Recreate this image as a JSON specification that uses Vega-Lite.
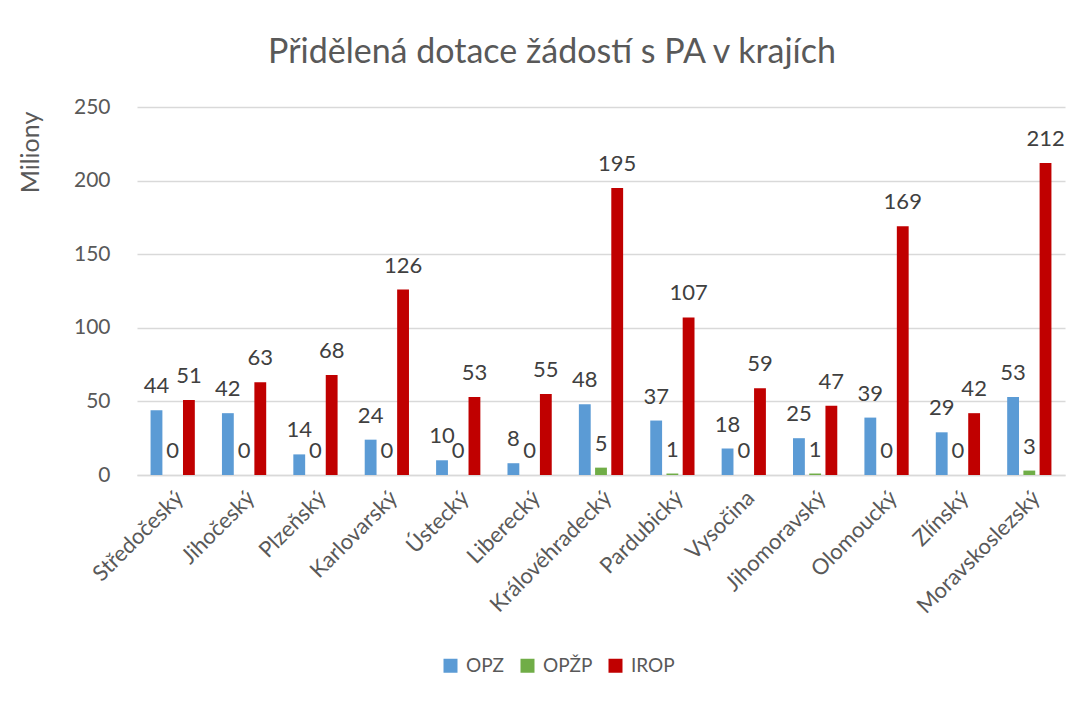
{
  "$schema": "https://vega.github.io/schema/vega-lite/v6.json",
  "autosize": {"type": "none"},
  "width": 928,
  "height": 368,
  "padding": {"left": 137, "top": 107, "right": 11, "bottom": 227},
  "background": "white",
  "config": {
    "font": "Lato",
    "view": {"stroke": null}
  },
  "title": {
    "text": "Přidělená dotace žádostí s PA v krajích",
    "fontSize": 34,
    "fontWeight": "normal",
    "color": "#595959",
    "anchor": "middle",
    "dx": -49,
    "offset": -1,
    "baseline": "alphabetic"
  },
  "data": {
    "values": [
      {"kraj": "Středočeský", "program": "OPZ", "value": 44},
      {"kraj": "Středočeský", "program": "OPŽP", "value": 0},
      {"kraj": "Středočeský", "program": "IROP", "value": 51},
      {"kraj": "Jihočeský", "program": "OPZ", "value": 42},
      {"kraj": "Jihočeský", "program": "OPŽP", "value": 0},
      {"kraj": "Jihočeský", "program": "IROP", "value": 63},
      {"kraj": "Plzeňský", "program": "OPZ", "value": 14},
      {"kraj": "Plzeňský", "program": "OPŽP", "value": 0},
      {"kraj": "Plzeňský", "program": "IROP", "value": 68},
      {"kraj": "Karlovarský", "program": "OPZ", "value": 24},
      {"kraj": "Karlovarský", "program": "OPŽP", "value": 0},
      {"kraj": "Karlovarský", "program": "IROP", "value": 126},
      {"kraj": "Ústecký", "program": "OPZ", "value": 10},
      {"kraj": "Ústecký", "program": "OPŽP", "value": 0},
      {"kraj": "Ústecký", "program": "IROP", "value": 53},
      {"kraj": "Liberecký", "program": "OPZ", "value": 8},
      {"kraj": "Liberecký", "program": "OPŽP", "value": 0},
      {"kraj": "Liberecký", "program": "IROP", "value": 55},
      {"kraj": "Královéhradecký", "program": "OPZ", "value": 48},
      {"kraj": "Královéhradecký", "program": "OPŽP", "value": 5},
      {"kraj": "Královéhradecký", "program": "IROP", "value": 195},
      {"kraj": "Pardubický", "program": "OPZ", "value": 37},
      {"kraj": "Pardubický", "program": "OPŽP", "value": 1},
      {"kraj": "Pardubický", "program": "IROP", "value": 107},
      {"kraj": "Vysočina", "program": "OPZ", "value": 18},
      {"kraj": "Vysočina", "program": "OPŽP", "value": 0},
      {"kraj": "Vysočina", "program": "IROP", "value": 59},
      {"kraj": "Jihomoravský", "program": "OPZ", "value": 25},
      {"kraj": "Jihomoravský", "program": "OPŽP", "value": 1},
      {"kraj": "Jihomoravský", "program": "IROP", "value": 47},
      {"kraj": "Olomoucký", "program": "OPZ", "value": 39},
      {"kraj": "Olomoucký", "program": "OPŽP", "value": 0},
      {"kraj": "Olomoucký", "program": "IROP", "value": 169},
      {"kraj": "Zlínský", "program": "OPZ", "value": 29},
      {"kraj": "Zlínský", "program": "OPŽP", "value": 0},
      {"kraj": "Zlínský", "program": "IROP", "value": 42},
      {"kraj": "Moravskoslezský", "program": "OPZ", "value": 53},
      {"kraj": "Moravskoslezský", "program": "OPŽP", "value": 3},
      {"kraj": "Moravskoslezský", "program": "IROP", "value": 212}
    ]
  },
  "encoding": {
    "x": {
      "field": "kraj",
      "type": "nominal",
      "sort": null,
      "scale": {"paddingInner": 0.38, "paddingOuter": 0.19},
      "axis": {
        "title": null,
        "labelAngle": -45,
        "labelAlign": "right",
        "labelBaseline": "top",
        "labelFontSize": 22,
        "labelColor": "#595959",
        "labelPadding": 12,
        "ticks": false,
        "domainColor": "#D9D9D9",
        "domainWidth": 1.5
      }
    },
    "xOffset": {
      "field": "program",
      "type": "nominal",
      "scale": {"domain": ["OPZ", "OPŽP", "IROP"], "paddingInner": 0.27}
    },
    "y": {
      "field": "value",
      "type": "quantitative",
      "scale": {"domain": [0, 250]},
      "axis": {
        "title": "Miliony",
        "titleFontSize": 25,
        "titleFontWeight": "normal",
        "titleColor": "#595959",
        "titleX": -107,
        "titleY": 45,
        "titleAngle": -90,
        "titleAlign": "center",
        "titleBaseline": "middle",
        "values": [0, 50, 100, 150, 200, 250],
        "labelFontSize": 21,
        "labelColor": "#595959",
        "labelPadding": 27,
        "ticks": false,
        "domain": false,
        "gridColor": "#D9D9D9",
        "gridWidth": 1.5
      }
    }
  },
  "layer": [
    {
      "mark": {"type": "bar"},
      "encoding": {
        "color": {
          "field": "program",
          "type": "nominal",
          "scale": {"domain": ["OPZ", "OPŽP", "IROP"], "range": ["#5B9BD5", "#70AD47", "#C00000"]},
          "legend": {
            "title": null,
            "orient": "none",
            "direction": "horizontal",
            "legendX": 304,
            "legendY": 549,
            "symbolType": "square",
            "symbolSize": 196,
            "symbolStrokeWidth": 0,
            "labelFontSize": 19,
            "labelColor": "#595959",
            "labelOffset": 6,
            "columnPadding": 13
          }
        }
      }
    },
    {
      "mark": {"type": "text", "fontSize": 22, "color": "#404040", "baseline": "alphabetic", "dy": -17},
      "encoding": {
        "text": {"field": "value", "type": "quantitative"}
      }
    }
  ]
}
